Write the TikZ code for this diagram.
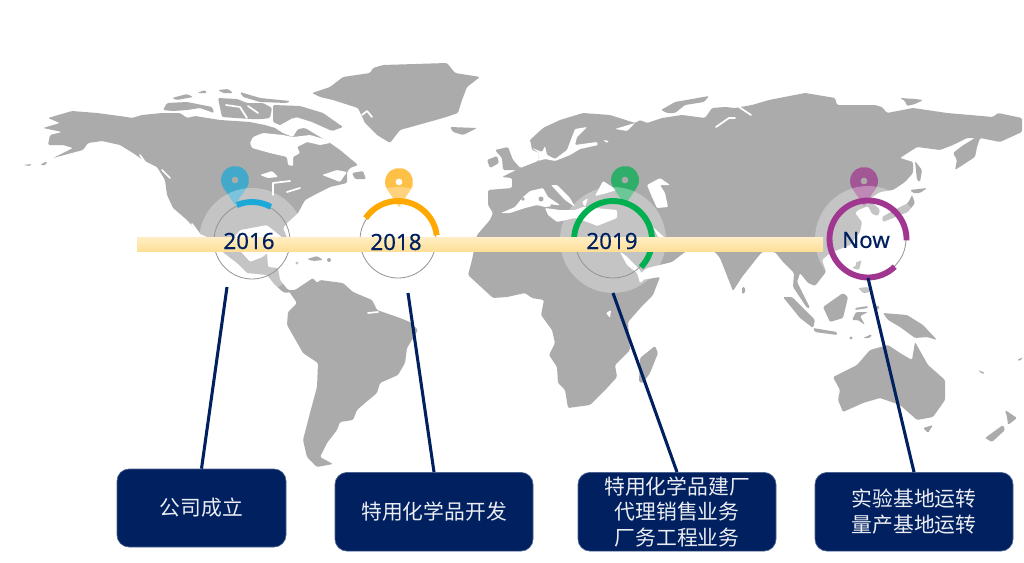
\documentclass[tikz,border=0pt]{standalone}
\usepackage{fontspec}
\usetikzlibrary{calc}
\setmainfont{Noto Sans}
\newfontfamily\yearfont[FakeBold=0.3]{Noto Sans}
\newfontfamily\cjk{Noto Sans CJK SC}
\definecolor{land}{HTML}{ABABAB}
\definecolor{navy}{HTML}{002060}
\definecolor{cblue}{HTML}{1CA9D8}
\definecolor{corange}{HTML}{FFA800}
\definecolor{cgreen}{HTML}{00B050}
\definecolor{cpurple}{HTML}{A0368F}
\definecolor{bartop}{HTML}{FFEEC4}
\definecolor{barbot}{HTML}{FEDF98}
\tikzset{
  landpoly/.style={fill=land,rounded corners=1pt},
  seapoly/.style={fill=white,rounded corners=.8pt},
  seastroke/.style={draw=white,line width=1.3pt,line cap=round,line join=round},
  halo/.style={fill=white,opacity=.3},
  thinring/.style={draw=gray!85,line width=.6pt},
  bigarc/.style={line width=4.4pt},
  connector/.style={draw=navy,line width=2.3pt},
  infobox/.style={rectangle,rounded corners=9pt,fill=navy,draw=navy!70!white,line width=.5pt,inner sep=0pt,text=white!92!navy,align=center,font=\cjk\fontsize{15.6}{19.3}\selectfont},
  yearlabel/.style={text=navy,inner sep=0pt,font=\yearfont\fontsize{16.8}{20}\selectfont}
}
\newcommand{\pinmark}[2]{%
  \fill[#2,opacity=.72,even odd rule] ($(#1)+(0,-25)$) -- ([shift={(-34:14)}]#1) arc (-34:214:14) -- cycle (#1) circle (3.5);}
\begin{document}
\begin{tikzpicture}[x=.75pt,y=.75pt]
\useasboundingbox (0,0) rectangle (1024,562);
\fill[white] (0,0) rectangle (1024,562);
\begin{scope}[shift={(0,562)},yscale=-1]
% North America
\path[landpoly] (48,118)--(72,111)--(97,113)--(127,117)--(132,118)--(142,115)--(162,113)--(180,113)--(187,118)--(195,116)--(220,120)--(250,122)--(265,125)--(275,128)--(290,130)--(305,128)--(330,143)--(340,150)--(358,165)--(350,168)--(347,172)--(347,183)--(330,187)--(318,193)--(305,200)--(298,213)--(287,223)--(283,228)--(288,240)--(283,238)--(267,225)--(240,230)--(230,242)--(242,253)--(250,262)--(263,257)--(267,253)--(268,267)--(278,268)--(280,280)--(288,290)--(295,290)--(287,293)--(283,292)--(275,285)--(267,275)--(247,273)--(237,263)--(220,250)--(205,240)--(187,220)--(173,208)--(167,195)--(165,180)--(157,167)--(143,160)--(133,153)--(120,145)--(102,141)--(88,143)--(83,150)--(53,158)--(73,148)--(63,145)--(48,145)--(50,135)--(62,132)--(43,128)--(60,123)--cycle;
\path[landpoly] (23,165)--(32,164)--(30,166)--cycle;
\path[landpoly] (40,165)--(47,161)--(46,165)--cycle;
% Arctic islands
\path[landpoly] (163,110)--(167,103)--(187,102)--(197,104)--(212,107)--(214,113)--(200,108)--(187,110)--(173,111)--cycle;
\path[landpoly] (172,98)--(187,94)--(193,97)--(177,100)--cycle;
\path[landpoly] (197,93)--(205,90)--(207,93)--cycle;
\path[landpoly] (218,90)--(228,89)--(233,93)--(223,93)--cycle;
\path[landpoly] (240,92)--(260,98)--(290,101)--(287,103)--(260,102)--(243,97)--cycle;
\path[landpoly] (218,98)--(237,99)--(247,103)--(263,103)--(272,108)--(270,118)--(262,119)--(250,119)--(222,117)--cycle;
\draw[seastroke] (226,105)--(240,107)--(247,118);
\draw[seastroke] (248,106)--(258,113);
\path[landpoly] (273,105)--(300,106)--(323,113)--(343,127)--(332,131)--(312,122)--(296,117)--(282,126)--(273,122)--cycle;
% Newfoundland
\path[landpoly] (352,173)--(363,171)--(366,179)--(355,179)--cycle;
% Hudson, seas
\path[seapoly] (250,143)--(252,148)--(270,153)--(287,157)--(288,165)--(293,166)--(293,157)--(300,153)--(297,147)--(307,142)--(320,145)--(330,143)--(327,140)--(310,135)--(293,137)--(283,135)--(263,133)--(253,137)--cycle;
\path[seapoly] (275,128)--(293,118)--(308,124)--(297,130)--(293,137)--(283,133)--cycle;
\path[seapoly] (322,175)--(337,170)--(347,172)--(340,182)--(330,178)--cycle;
\path[seapoly] (260,175)--(272,171)--(278,177)--(268,178)--cycle;
\draw[seastroke] (273,195)--(273,183)--(290,181);
\draw[seastroke] (287,192)--(300,188);
\draw[seastroke] (192,224)--(200,235)--(207,238);
\draw[seastroke] (162,170)--(170,178);
\draw[seastroke] (140,155)--(147,165);
% Greenland
\path[landpoly] (312,93)--(330,87)--(343,77)--(370,73)--(373,68)--(383,65)--(447,63)--(455,73)--(480,77)--(467,87)--(462,100)--(458,113)--(443,118)--(400,130)--(390,143)--(377,135)--(365,123)--(358,108)--(333,100)--(320,97)--cycle;
\draw[seastroke] (362,115)--(367,111)--(372,117);
\path[landpoly] (450,127)--(477,128)--(463,135)--(453,132)--cycle;
% South America
\path[landpoly] (288,290)--(295,290)--(313,278)--(317,283)--(320,280)--(343,283)--(353,292)--(372,300)--(377,310)--(400,318)--(410,322)--(418,330)--(407,348)--(405,363)--(398,375)--(380,383)--(377,393)--(365,403)--(357,410)--(353,420)--(340,422)--(337,430)--(327,443)--(320,457)--(333,464)--(317,467)--(307,457)--(303,440)--(310,413)--(317,387)--(318,363)--(303,353)--(287,325)--(288,312)--(297,303)--cycle;
\draw[seastroke] (368,313)--(378,312);
% Caribbean
\path[landpoly] (307,259)--(317,256)--(323,260)--(313,261)--cycle;
\fill[land] (329,260) circle (2);
\fill[land] (297,263) circle (1.7);
% Eurasia and Africa
\path[landpoly] (530,140)--(543,128)--(560,120)--(583,113)--(610,115)--(635,123)--(640,120)--(647,123)--(662,118)--(682,115)--(705,118)--(712,108)--(725,107)--(735,108)--(752,105)--(769,100)--(805,93)--(835,98)--(837,105)--(875,105)--(882,107)--(887,113)--(913,108)--(947,113)--(993,117)--(998,113)--(1022,118)--(1022,132)--(1000,142)--(980,138)--(977,147)--(975,157)--(955,170)--(957,160)--(953,153)--(962,146)--(975,138)--(967,138)--(953,145)--(940,150)--(917,147)--(900,158)--(913,162)--(913,173)--(905,182)--(893,190)--(880,192)--(868,200)--(875,205)--(880,210)--(878,216)--(872,214)--(868,206)--(858,210)--(855,213)--(862,222)--(860,232)--(850,245)--(830,253)--(822,260)--(826,272)--(815,286)--(808,283)--(800,273)--(797,282)--(810,308)--(807,308)--(793,287)--(794,273)--(783,262)--(775,252)--(762,252)--(757,258)--(742,277)--(733,291)--(720,258)--(715,252)--(712,251)--(690,251)--(685,252)--(672,262)--(647,268)--(638,275)--(642,280)--(660,277)--(653,295)--(643,305)--(628,322)--(630,350)--(615,365)--(617,377)--(608,387)--(590,405)--(568,408)--(565,390)--(558,383)--(557,367)--(549,355)--(555,343)--(552,330)--(541,315)--(544,300)--(532,298)--(525,293)--(507,297)--(493,298)--(468,275)--(472,260)--(477,235)--(490,220)--(493,213)--(488,205)--(488,190)--(512,188)--(512,178)--(502,177)--(520,168)--cycle;
% inner seas
\path[seapoly] (520,168)--(538,161)--(539,153)--(532,150)--(530,140)--(522,140)--cycle;
\path[seapoly] (532,148)--(542,152)--(545,146)--(547,155)--(555,159)--(567,150)--(575,129)--(587,127)--(577,137)--(575,145)--(597,142)--(598,145)--(580,149)--(570,155)--(555,161)--(545,159)--(538,161)--(539,153)--cycle;
\path[seapoly] (615,129)--(635,123)--(627,131)--cycle;
\path[seapoly] (603,140)--(609,141)--(607,143)--cycle;
\path[seapoly] (501,213)--(515,207)--(523,197)--(530,191)--(543,188)--(548,197)--(560,205)--(545,207)--(537,205)--(525,208)--(510,213)--cycle;
\path[seapoly] (551,185)--(557,185)--(570,198)--(575,207)--(565,200)--cycle;
\path[seapoly] (545,208)--(560,210)--(575,210)--(583,207)--(617,210)--(617,218)--(597,226)--(590,223)--(575,218)--(557,222)--(548,215)--cycle;
\path[seapoly] (582,202)--(588,198)--(585,207)--cycle;
\path[seapoly] (595,196)--(603,181)--(617,190)--(607,193)--cycle;
\path[seapoly] (647,185)--(660,178)--(670,185)--(660,185)--(665,193)--(668,207)--(657,208)--(652,197)--cycle;
\path[seapoly] (620,252)--(625,255)--(640,270)--(644,280)--(640,283)--(637,273)--(627,265)--cycle;
\path[seapoly] (653,227)--(665,238)--(658,237)--cycle;
\path[seapoly] (606,313)--(611,310)--(610,318)--cycle;
\draw[seastroke] (716,127)--(729,118)--(735,118);
\draw[seastroke] (739,107)--(751,115);
\fill[land] (541,199) circle (2.5);
\fill[land] (523,199) circle (1.8);
\path[landpoly] (550,204)--(560,206)--(558,208)--(551,207)--cycle;
% Eurasia islands
\path[landpoly] (661,110)--(675,102)--(709,96)--(704,102)--(685,105)--(675,113)--(667,113)--cycle;
\path[landpoly] (900,98)--(915,99)--(923,100)--(915,104)--(907,106)--(905,101)--cycle;
\path[landpoly] (495,150)--(508,147)--(513,160)--(522,170)--(503,170)--(502,158)--cycle;
\path[landpoly] (487,160)--(497,156)--(499,163)--(490,168)--cycle;
\path[landpoly] (640,358)--(655,346)--(658,353)--(650,373)--(643,383)--(639,382)--cycle;
\path[landpoly] (915,161)--(922,170)--(920,182)--(917,180)--cycle;
\path[landpoly] (910,190)--(927,188)--(920,193)--(913,193)--cycle;
\path[landpoly] (912,195)--(915,203)--(908,212)--(893,218)--(883,222)--(882,217)--(898,208)--(908,203)--cycle;
\path[landpoly] (855,263)--(862,260)--(858,268)--cycle;
\path[landpoly] (852,268)--(861,262)--(859,270)--cycle;
\path[landpoly] (858,288)--(868,287)--(870,292)--(863,293)--cycle;
\path[landpoly] (742,287)--(745,287)--(745,293)--(742,294)--cycle;
\path[landpoly] (783,297)--(792,297)--(815,320)--(813,328)--(800,318)--cycle;
\path[landpoly] (813,328)--(837,332)--(837,335)--(815,332)--cycle;
\path[landpoly] (823,307)--(843,293)--(848,297)--(843,318)--(830,322)--cycle;
\path[landpoly] (852,320)--(856,312)--(868,312)--(860,316)--(865,325)--(858,320)--cycle;
\path[landpoly] (855,308)--(868,306)--(868,308)--(855,310)--cycle;
\path[landpoly] (875,305)--(880,307)--(875,312)--cycle;
\path[landpoly] (883,313)--(907,315)--(923,325)--(937,340)--(927,337)--(915,338)--(900,327)--(888,320)--cycle;
\path[landpoly] (863,338)--(872,334)--(870,338)--cycle;
\fill[land] (851,338) circle (1.7);
% Australia and Pacific
\path[landpoly] (833,377)--(857,365)--(870,350)--(888,345)--(900,353)--(912,360)--(915,342)--(928,365)--(945,380)--(945,400)--(933,417)--(917,420)--(900,405)--(880,398)--(863,403)--(843,412)--(838,400)--(840,390)--cycle;
\path[landpoly] (923,428)--(933,425)--(928,433)--cycle;
\path[landpoly] (1005,410)--(1017,418)--(1008,425)--(1007,417)--cycle;
\path[landpoly] (985,438)--(1003,425)--(1005,430)--(992,442)--cycle;
\path[landpoly] (978,370)--(985,373)--(982,374)--cycle;
\path[landpoly] (1017,360)--(1023,357)--(1020,361)--cycle;
\end{scope}
% centres
\coordinate (c16) at (252,321);
\coordinate (c18) at (398,322);
\coordinate (c19) at (613,322);
\coordinate (cnow) at (868,323);
\coordinate (p16) at (235,382);
\coordinate (p18) at (399,380);
\coordinate (p19) at (625,382);
\coordinate (pnow) at (864,381);
% pins
\pinmark{p16}{cblue}
\pinmark{p18}{corange}
\pinmark{p19}{cgreen}
\pinmark{pnow}{cpurple}
% halos
\foreach \c in {c16,c18,c19,cnow} \fill[halo] (\c) circle (53);
% thin rings
\foreach \c in {c16,c18,c19,cnow} \draw[thinring] (\c) circle (38);
% coloured arcs
\draw[bigarc,cblue] ([shift={(61:39)}]c16) arc (61:113:39);
\draw[bigarc,corange] ([shift={(7:39)}]c18) arc (7:146:39);
\draw[bigarc,cgreen] ([shift={(-44:39)}]c19) arc (-44:185:39);
\draw[bigarc,cpurple] ([shift={(-2:38.5)}]cnow) arc (-2:314:38.5);
% bar
\shade[top color=bartop,bottom color=barbot] (137,311) rectangle (823,325);
% labels
\node[yearlabel] (y16) at (249,321) {2016};
\node[yearlabel] (y18) at (396,320) {2018};
\node[yearlabel] (y19) at (612,321) {2019};
\node[yearlabel] (ynow) at (866,322) {Now};
% boxes
\node[infobox,minimum width=126.75pt,minimum height=58.5pt] (b1) at (201.5,54) {公司成立};
\node[infobox,minimum width=148.5pt,minimum height=59pt] (b2) at (434,50.25) {特用化学品开发};
\node[infobox,minimum width=148.5pt,minimum height=59pt] (b3) at (677,50.25) {特用化学品建厂\\代理销售业务\\厂务工程业务};
\node[infobox,minimum width=148.5pt,minimum height=59pt] (b4) at (914,50.25) {实验基地运转\\量产基地运转};
% connectors
\coordinate (s1) at (227,275);
\coordinate (s2) at (408,269);
\coordinate (s3) at (613,269);
\coordinate (s4) at (868,284);
\draw[connector] (s1) -- (b1.north);
\draw[connector] (s2) -- (b2.north);
\draw[connector] (s3) -- (b3.north);
\draw[connector] (s4) -- (b4.north);
\end{tikzpicture}
\end{document}
